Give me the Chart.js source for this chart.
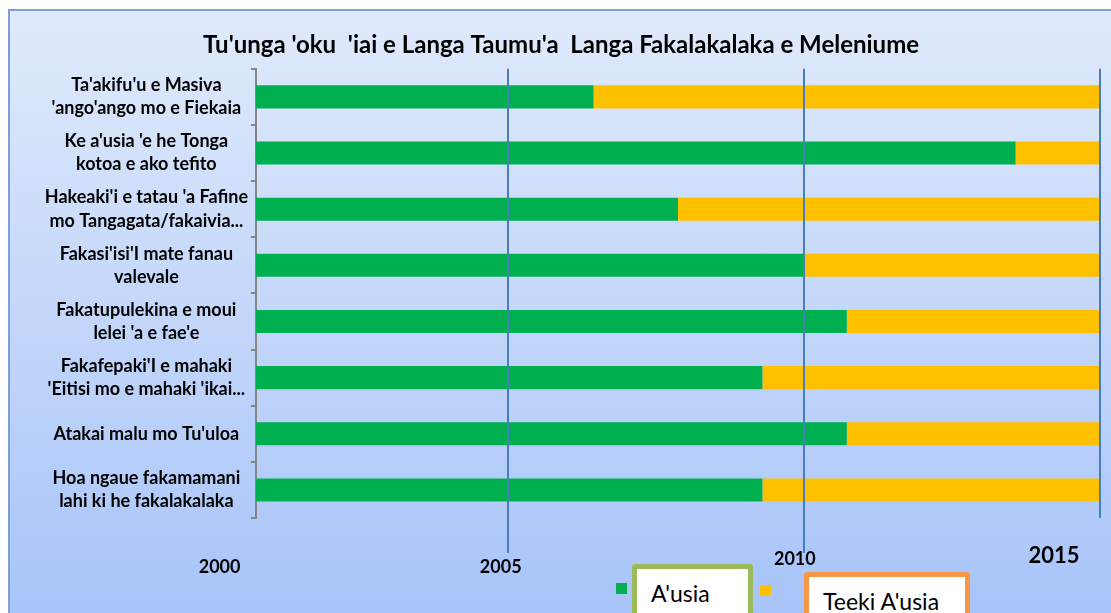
<!DOCTYPE html>
<html>
<head>
<meta charset="utf-8">
<script src="https://cdn.jsdelivr.net/npm/chart.js@4.4.0/dist/chart.umd.min.js"></script>
<style>
body{margin:0;width:1111px;height:613px;overflow:hidden;background:#fff;font-family:Lato,"Open Sans",sans-serif}
#moldura{position:absolute;left:8px;top:9px;width:1120px;height:620px;border:2px solid #7b9fd6;background:linear-gradient(#e0eafb,#a6c3f9)}
#caixa{position:absolute;left:0;top:0;width:1111px;height:613px}
.quadrado{position:absolute;width:11px;height:11px}
.rotulo{position:absolute;height:60px;background:#fff;border:5px solid;border-radius:3px;box-sizing:border-box;font-size:23px;line-height:26px;color:#000;white-space:nowrap}
</style>
</head>
<body>
<div id="moldura"></div>
<div id="caixa"><canvas id="myChart"></canvas></div>
<div id="legenda"></div>
<script>
var categorias = [
    ["Ta'akifu'u e Masiva", "'ango'ango mo e Fiekaia"],
    ["Ke a'usia 'e he Tonga", "kotoa e ako tefito"],
    ["Hakeaki'i e tatau 'a Fafine", "mo Tangagata/fakaivia..."],
    ["Fakasi'isi'I mate fanau", "valevale"],
    ["Fakatupulekina e moui", "lelei 'a e fae'e"],
    ["Fakafepaki'I e mahaki", "'Eitisi mo e mahaki 'ikai..."],
    ["Atakai malu mo Tu'uloa"],
    ["Hoa ngaue fakamamani", "lahi ki he fakalakalaka"]
]
var ausia = [40, 90, 50, 65, 70, 60, 70, 60]
var teekiAusia = [60, 10, 50, 35, 30, 40, 30, 40]
var anos = [2000, 2005, 2010, 2015]
var anosTexto = ['2000', '2005', '2010', '2015']

// rotulos dos anos embaixo (desenhados pela escala x2)
const anosPlugin = {
    id: 'anos',
    afterDraw(chart) {
        var sc = chart.scales.x2
        var c = chart.ctx
        var base = chart.chartArea.bottom
        // ajuste de cada rotulo: [dx, dy, tamanho]
        var ajuste = [[8, 49, 18], [-7, 49, 18], [-9, 41, 18], [-46, 38, 22]]
        c.save()
        c.fillStyle = '#000'
        c.textAlign = 'center'
        c.textBaseline = 'middle'
        for (var i = 0; i < anos.length; i++) {
            var x = sc.getPixelForValue(anos[i])
            c.font = 'bold ' + ajuste[i][2] + 'px Lato'
            c.fillText(anosTexto[i], x + ajuste[i][0], base + ajuste[i][1])
        }
        c.restore()
    }
}

const ctx = document.getElementById('myChart')
var grafico = new Chart(ctx, {
    type: 'bar',
    data: {
        labels: categorias,
        datasets: [{
            label: "A'usia",
            backgroundColor: '#00b050',
            data: ausia,
            barPercentage: 0.41,
            categoryPercentage: 1
        }, {
            label: "Teeki A'usia",
            backgroundColor: '#ffc000',
            data: teekiAusia,
            barPercentage: 0.41,
            categoryPercentage: 1
        }]
    },
    options: {
        indexAxis: 'y',
        responsive: true,
        maintainAspectRatio: false,
        animation: false,
        layout: { padding: { left: 22, right: 11, top: 0, bottom: 60 } },
        plugins: {
            legend: { display: false },
            tooltip: { enabled: false },
            title: {
                display: true,
                text: "Tu'unga 'oku  'iai e Langa Taumu'a  Langa Fakalakalaka e Meleniume",
                color: '#000',
                font: { family: 'Lato', weight: 'bold', size: 24 },
                padding: { top: 31, bottom: 9 }
            }
        },
        scales: {
            x: {
                display: false,
                stacked: true,
                min: 0,
                max: 100
            },
            x2: {
                type: 'linear',
                position: 'bottom',
                min: 2000.75,
                max: 2015,
                afterBuildTicks: function(s) {
                    s.ticks = anos.filter(v => v >= s.min).map(v => ({ value: v }))
                },
                ticks: { display: false },
                grid: {
                    z: 1,
                    color: '#4a7ebb',
                    lineWidth: 2,
                    tickLength: 35,
                    tickColor: c => (c.tick && c.tick.value == 2015) ? 'rgba(0,0,0,0)' : '#4a7ebb'
                },
                border: { display: false }
            },
            y: {
                stacked: true,
                grid: { offset: true, drawOnChartArea: false, color: '#868686', tickLength: 5, lineWidth: 2 },
                border: { color: '#868686', width: 2 },
                ticks: {
                    crossAlign: 'center',
                    color: '#000',
                    padding: 3,
                    font: { family: 'Lato', weight: 'bold', size: 18, lineHeight: 1.28 }
                },
                afterFit: function(s) { s.width = 234 }
            }
        }
    },
    plugins: [anosPlugin]
})

// legenda com caixas, feita a partir dos datasets
var legenda = document.getElementById('legenda')
var lugares = [
    { q: [616, 583], b: [632, 564, 121], borda: '#9bbb59' },
    { q: [760, 585], b: [804, 572, 166], borda: '#f79646' }
]
grafico.data.datasets.forEach(function(ds, i) {
    var q = document.createElement('div')
    q.className = 'quadrado'
    q.style.left = lugares[i].q[0] + 'px'
    q.style.top = lugares[i].q[1] + 'px'
    q.style.background = ds.backgroundColor
    legenda.appendChild(q)
    var b = document.createElement('div')
    b.className = 'rotulo'
    b.style.left = lugares[i].b[0] + 'px'
    b.style.top = lugares[i].b[1] + 'px'
    b.style.width = lugares[i].b[2] + 'px'
    b.style.borderColor = lugares[i].borda
    b.style.padding = '11px 0 0 14px'
    b.textContent = ds.label
    legenda.appendChild(b)
})
</script>
</body>
</html>
